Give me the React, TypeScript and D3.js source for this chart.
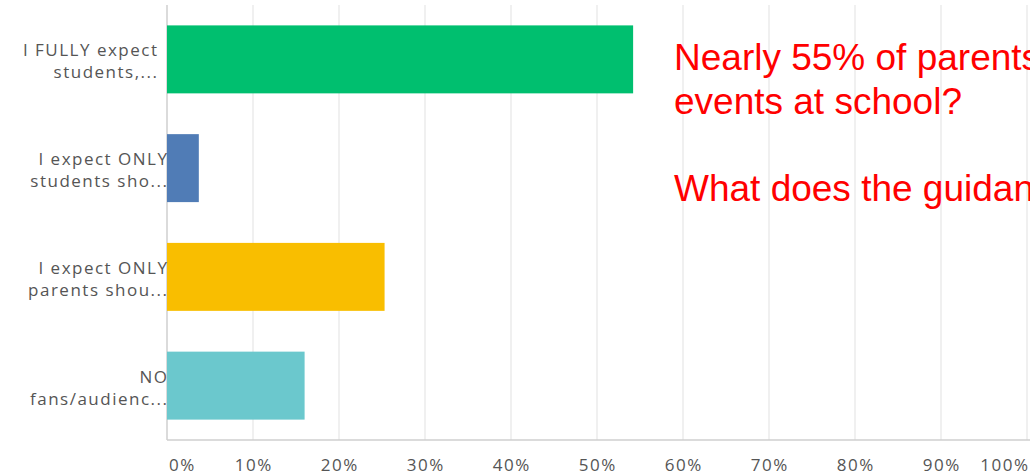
import React from "react";
import * as d3 from "d3";

const categories = [
  ["I FULLY expect", "students,..."],
  ["I expect ONLY", "students sho..."],
  ["I expect ONLY", "parents shou..."],
  ["NO", "fans/audienc..."],
];
const values = [54.2, 3.7, 25.3, 16.0];
const colors = ["#00BF6F", "#507CB6", "#F9BE00", "#6BC8CD"];
const ticks = [0, 10, 20, 30, 40, 50, 60, 70, 80, 90, 100];
const noteLines = [
  "Nearly 55% of parents",
  "events at school?",
  "",
  "What does the guidance",
];

const W = 1030;
const H = 476;

export default function App() {
  const x = d3.scaleLinear().domain([0, 100]).range([167, 1027]);
  const y = d3
    .scaleBand<number>()
    .domain(d3.range(categories.length))
    .range([5, 440])
    .paddingInner(0.375)
    .paddingOuter(0.1875);
  const font = "'Open Sans', sans-serif";
  const ls = 1.5;
  return (
    <svg
      width={W}
      height={H}
      style={{ position: "absolute", left: 0, top: 0, background: "#fff" }}
    >
      {ticks.map((t) => (
        <line
          key={"g" + t}
          x1={x(t)}
          x2={x(t)}
          y1={5}
          y2={440}
          stroke={t === 0 ? "#cfcfcf" : "#ebebeb"}
          strokeWidth={1.5}
        />
      ))}
      <line x1={x(0)} x2={W} y1={440} y2={440} stroke="#cfcfcf" strokeWidth={1.5} />
      {values.map((v, i) => (
        <rect
          key={"b" + i}
          x={x(0)}
          y={y(i)}
          width={x(v) - x(0)}
          height={y.bandwidth()}
          fill={colors[i]}
        />
      ))}
      {categories.map((lines, i) => {
        const cy = (y(i) as number) + y.bandwidth() / 2;
        const ax = (i === 0 ? x(0) - 10 : x(0)) + ls;
        return (
          <text
            key={"l" + i}
            textAnchor="end"
            fontFamily={font}
            fontSize={17}
            letterSpacing={ls}
            fill="#555"
          >
            <tspan x={ax} y={cy - 3}>{lines[0]}</tspan>
            <tspan x={ax} y={cy + 19}>{lines[1]}</tspan>
          </text>
        );
      })}
      {ticks.map((t, i) => (
        <text
          key={"t" + t}
          x={i === 0 ? x(t) + 2 : i === ticks.length - 1 ? W - 0.5 : x(t) + 0.75}
          y={471}
          textAnchor={i === 0 ? "start" : i === ticks.length - 1 ? "end" : "middle"}
          fontFamily={font}
          fontSize={17}
          letterSpacing={1.5}
          fill="#555"
        >
          {t}%
        </text>
      ))}
      <text fontFamily="'Liberation Sans', Arial, sans-serif" fontSize={37} fill="#FF0000">
        {noteLines.map((s, i) => (
          <tspan key={"n" + i} x={674} y={70 + i * 43.5}>
            {s}
          </tspan>
        ))}
      </text>
    </svg>
  );
}
